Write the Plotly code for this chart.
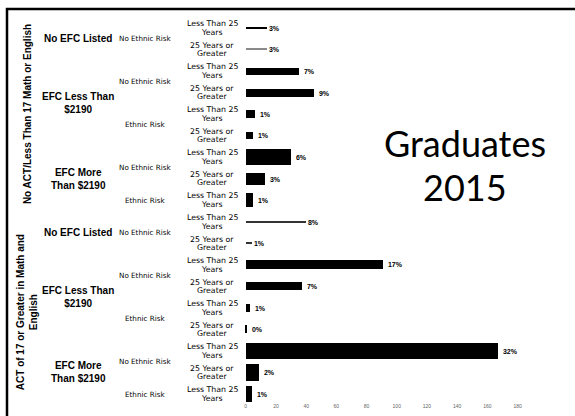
import plotly.graph_objects as go

# ---- data ----
act_group = ["No ACT/Less Than 17 Math or English"] * 9 + ["ACT of 17 or Greater in Math and<br>English"] * 9
efc_group = (["No EFC Listed"] * 2 + ["EFC Less Than<br>$2190"] * 4 + ["EFC More<br>Than $2190"] * 3) * 2
ethnic = ["No Ethnic Risk", "No Ethnic Risk",
          "No Ethnic Risk", "No Ethnic Risk", "Ethnic Risk", "Ethnic Risk",
          "No Ethnic Risk", "No Ethnic Risk", "Ethnic Risk"] * 2
age = ["Less Than 25<br>Years", "25 Years or<br>Greater"] * 4 + ["Less Than 25<br>Years"]
age = age * 2
counts = [14, 14, 35, 45, 6, 5, 30, 13, 5, 40, 4, 91, 37, 3, 1, 167, 9, 4]
pct_labels = ["3%", "3%", "7%", "9%", "1%", "1%", "6%", "3%", "1%",
              "8%", "1%", "17%", "7%", "1%", "0%", "32%", "2%", "1%"]
x_ticks = [0, 20, 40, 60, 80, 100, 120, 140, 160, 180]
title_lines = ["Graduates", "2015"]

# ---- styling ----
bar_widths = [0.07, 0.05, 0.33, 0.37, 0.37, 0.33, 0.75, 0.56, 0.65,
              0.05, 0.05, 0.42, 0.37, 0.37, 0.37, 0.75, 0.79, 0.75]
bar_colors = ["#000", "#8a8a8a", "#000", "#000", "#000", "#000", "#000", "#000", "#000",
              "#333", "#333", "#000", "#000", "#000", "#000", "#000", "#000", "#000"]

W, H = 575, 416
L, R, T, B = 245, 0, 12, 14
PW, PH = W - L - R, H - T - B
FONT = "Liberation Sans, Arial, sans-serif"
FONT2 = "DejaVu Sans, sans-serif"


def px_x(px):
    return (px - L) / PW


def px_y(py):
    return (H - B - py) / PH


n = len(counts)
rows = list(range(n))
row0_px, row_step = 28, (394 - 28) / 17
y_top = -(row0_px - T) / row_step
y_bot = (n - 1) + ((H - B) - (row0_px + (n - 1) * row_step)) / row_step

fig = go.Figure()
fig.add_trace(go.Bar(
    x=counts, y=rows, orientation="h", width=bar_widths,
    marker=dict(color=bar_colors, line=dict(width=0)),
    text=pct_labels, texttemplate=" %{text}", textposition="outside", constraintext="none",
    textfont=dict(family=FONT, size=7, color="#000", weight="bold"),
    cliponaxis=False, hoverinfo="skip",
))


def runs(keys):
    out = []
    start = 0
    for i in range(1, len(keys) + 1):
        if i == len(keys) or keys[i] != keys[start]:
            out.append((start, i - 1))
            start = i
    return out


def label(x, y, text, size, bold=False, yref="y", family=FONT, **kw):
    f = dict(family=family, size=size, color="#000")
    if bold:
        f["weight"] = "bold"
    return dict(x=x, y=y, xref="paper", yref=yref, text=text, showarrow=False,
                align="center", xanchor="center", yanchor="middle", font=f, **kw)


ann = []
# level 1 (rotated)
for s, e in runs(act_group):
    yc = (s + e) / 2
    if s > 0:
        yc += 0.2
    ann.append(label(px_x(27), yc, act_group[s], 10, bold=True, textangle=-90))
# level 2
k2 = list(zip(act_group, efc_group))
for s, e in runs(k2):
    ann.append(label(px_x(78), (s + e) / 2, efc_group[s], 10, bold=True))
# level 3
k3 = list(zip(act_group, efc_group, ethnic))
for s, e in runs(k3):
    ann.append(label(px_x(145), (s + e) / 2, ethnic[s], 7.2, family=FONT2))
# level 4 (tight two-line labels, each line placed separately)
line_gap = 8.5 / row_step
for i in rows:
    parts = age[i].split("<br>")
    for j, part in enumerate(parts):
        off = (j - (len(parts) - 1) / 2) * line_gap
        ann.append(label(px_x(212), i + off, part, 7.8, family=FONT2))
# big title text
for txt, py in zip(title_lines, [143, 187]):
    ann.append(dict(x=px_x(465), y=px_y(py), xref="paper", yref="paper",
                    text=txt, showarrow=False, align="center", borderpad=0,
                    xanchor="center", yanchor="middle",
                    font=dict(family="Lato, Open Sans, sans-serif", size=36, color="#000")))

shapes = [
    dict(type="line", xref="paper", yref="paper", x0=px_x(6), x1=px_x(575),
         y0=px_y(9), y1=px_y(9), line=dict(color="#000", width=2.5)),
    dict(type="line", xref="paper", yref="paper", x0=px_x(7), x1=px_x(7),
         y0=px_y(8), y1=px_y(416), line=dict(color="#000", width=2.5)),
]

fig.update_layout(
    width=W, height=H, margin=dict(l=L, r=R, t=T, b=B),
    paper_bgcolor="white", plot_bgcolor="white",
    showlegend=False, bargap=0,
    annotations=ann, shapes=shapes,
    xaxis=dict(range=[-0.5, PW / 1.51 - 0.5], tickvals=x_ticks, showgrid=False,
               zeroline=False, showline=False, ticks="",
               tickfont=dict(family=FONT, size=5, color="#666")),
    yaxis=dict(range=[y_bot, y_top], showticklabels=False, showgrid=False,
               zeroline=False, showline=False, ticks=""),
)

fig.write_html("out.html", config={"displayModeBar": False},
               post_script=["document.body.style.margin='0';"])
